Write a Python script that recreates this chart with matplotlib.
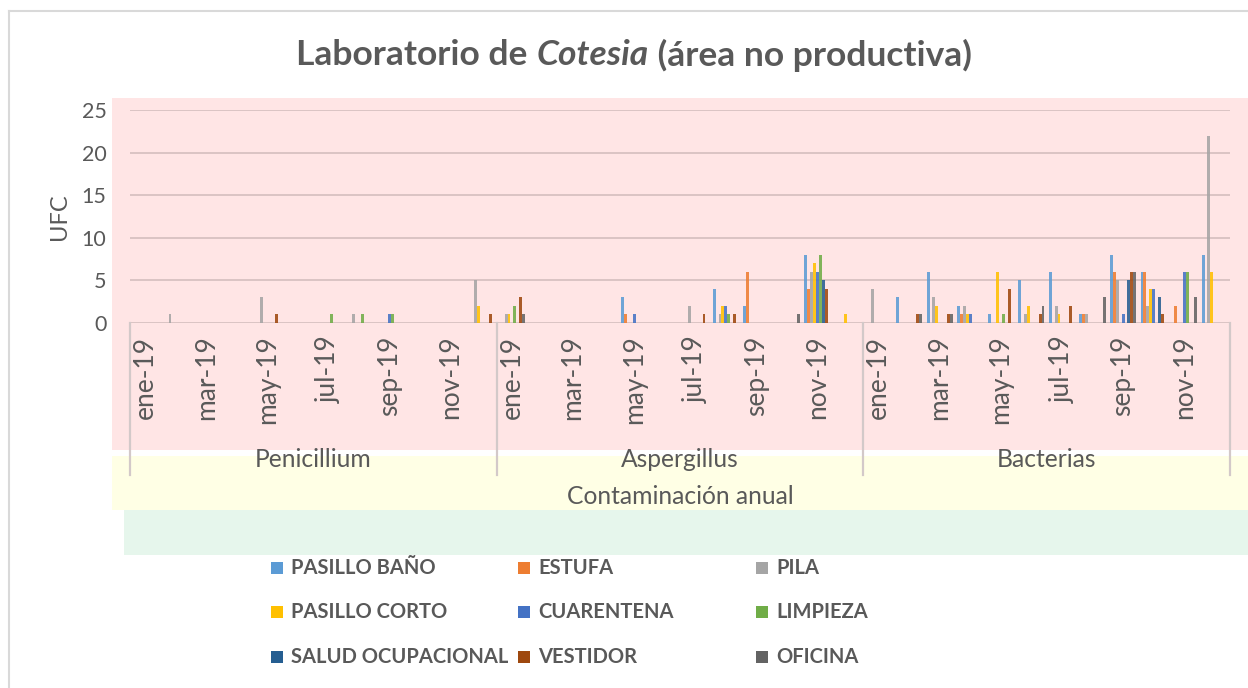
import numpy as np
import matplotlib
matplotlib.use('Agg')
import matplotlib.pyplot as plt
from matplotlib.patches import Rectangle
from matplotlib.lines import Line2D

W, H = 1248, 688
plt.rcParams['font.family'] = ['Lato', 'DejaVu Sans']
TXT = '#595959'

groups = ['Penicillium', 'Aspergillus', 'Bacterias']
months = ['ene-19', 'feb-19', 'mar-19', 'abr-19', 'may-19', 'jun-19',
          'jul-19', 'ago-19', 'sep-19', 'oct-19', 'nov-19', 'dic-19']
axis_title = 'Contaminación anual'

series_names = ['PASILLO BAÑO', 'ESTUFA', 'PILA', 'PASILLO CORTO', 'CUARENTENA',
                'LIMPIEZA', 'SALUD OCUPACIONAL', 'VESTIDOR', 'OFICINA']
colors = ['#5B9BD5', '#ED7D31', '#A5A5A5', '#FFC000', '#4472C4',
          '#70AD47', '#255E91', '#9E480E', '#636363']

#              Penicillium (ene..dic)      Aspergillus (ene..dic)      Bacterias (ene..dic)
pasillo_bano = [0,0,0,0,0,0,0,0,0,0,0,0,   0,0,0,0,3,0,0,4,2,0,8,0,   0,3,6,2,1,5,6,1,8,6,0,8]
estufa       = [0,0,0,0,0,0,0,0,0,0,0,0,   0,0,0,0,1,0,0,0,6,0,4,0,   0,0,0,1,0,0,0,1,6,6,2,0]
pila         = [0,1,0,0,3,0,0,1,0,0,0,5,   1,0,0,0,0,0,2,1,0,0,6,0,   4,0,3,2,0,1,2,1,5,2,0,22]
pasillo_corto= [0,0,0,0,0,0,0,0,0,0,0,2,   1,0,0,0,0,0,0,2,0,0,7,1,   0,0,2,1,6,2,1,0,0,4,0,6]
cuarentena   = [0,0,0,0,0,0,0,0,1,0,0,0,   0,0,0,0,1,0,0,2,0,0,6,0,   0,0,0,1,0,0,0,0,1,4,6,0]
limpieza     = [0,0,0,0,0,0,1,1,1,0,0,0,   2,0,0,0,0,0,0,1,0,0,8,0,   0,0,0,0,1,0,0,0,0,0,6,0]
salud_ocup   = [0,0,0,0,0,0,0,0,0,0,0,0,   0,0,0,0,0,0,0,0,0,0,5,0,   0,0,0,0,0,0,0,0,5,3,0,0]
vestidor     = [0,0,0,0,1,0,0,0,0,0,0,1,   3,0,0,0,0,0,1,1,0,0,4,0,   0,1,1,0,4,1,2,0,6,1,0,0]
oficina      = [0,0,0,0,0,0,0,0,0,0,0,0,   1,0,0,0,0,0,0,0,0,1,0,0,   0,1,1,0,0,2,0,3,6,0,3,0]

series_values = [pasillo_bano, estufa, pila, pasillo_corto, cuarentena,
                 limpieza, salud_ocup, vestidor, oficina]
y_ticks = [0, 5, 10, 15, 20, 25]


def fx(x):
    return x / W


def fy(y):
    return 1 - y / H


fig = plt.figure(figsize=(W / 100, H / 100), dpi=100)

# background bands and chart border
def band(x0, y0, x1, y1, color):
    fig.patches.append(Rectangle((fx(x0), fy(y1)), fx(x1) - fx(x0), fy(y0) - fy(y1),
                                 transform=fig.transFigure, facecolor=color,
                                 edgecolor='none', zorder=-5))

band(112, 98, 1248, 450, '#FFE5E5')
band(112, 456, 1248, 510, '#FFFFE5')
band(124, 510, 1248, 555, '#E6F6EC')
fig.lines.append(Line2D([fx(9), fx(9)], [fy(11), 0], transform=fig.transFigure,
                        color='#d9d9d9', lw=1.5, zorder=-4))
fig.lines.append(Line2D([fx(9), 1], [fy(11), fy(11)], transform=fig.transFigure,
                        color='#d9d9d9', lw=1.5, zorder=-4))

ax = fig.add_axes([fx(130), fy(323), fx(1230) - fx(130), fy(110) - fy(323)])
ax.set_facecolor('none')
n_cat = len(groups) * len(months)
x = np.arange(n_cat) + 0.5
bw = 0.095
for i, (name, vals, c) in enumerate(zip(series_names, series_values, colors)):
    ax.bar(x + (i - 4) * bw, vals, width=bw, color=c, alpha=0.88, label=name, zorder=3)

ax.set_xlim(0, n_cat)
ax.set_ylim(0, 25)
ax.set_yticks(y_ticks)
ax.tick_params(axis='y', length=0, pad=17, labelsize=15.5, labelcolor=TXT)
ax.yaxis.grid(True, color='#dbc4c4', lw=1.4, zorder=1)
ax.set_axisbelow(True)
for s in ax.spines.values():
    s.set_visible(False)

tick_pos = []
tick_lab = []
for g in range(len(groups)):
    for m in range(0, len(months), 2):
        tick_pos.append(g * len(months) + m + 0.5)
        tick_lab.append(months[m])
ax.set_xticks(tick_pos)
ax.set_xticklabels(tick_lab, rotation=90, fontsize=19, color=TXT)
ax.tick_params(axis='x', length=0, pad=9)

ax.set_ylabel('UFC', fontsize=17, color=TXT, labelpad=8)

# multi-level category separators
trans = ax.get_xaxis_transform()
ybot = -(475 - 323) / 213
for g in range(len(groups) + 1):
    ax.plot([g * len(months)] * 2, [0, ybot], transform=trans, color='#d3c9c9',
            lw=1.6, clip_on=False, zorder=2)
for g, name in enumerate(groups):
    ax.text(g * len(months) + len(months) / 2, -(459 - 323) / 213, name, transform=trans,
            ha='center', va='center', fontsize=17.7, color=TXT)
ax.text(n_cat / 2, -(496 - 323) / 213, axis_title, transform=trans,
        ha='center', va='center', fontsize=17.7, color=TXT)

# title built from three pieces (middle one italic)
pieces = [('Laboratorio de ', 'normal'), ('Cotesia', 'italic'), (' (área no productiva)', 'normal')]
renderer = fig.canvas.get_renderer()
texts = []
for s, st in pieces:
    t = fig.text(0, fy(55), s, fontsize=25.5, fontweight='bold', style=st, color=TXT,
                 ha='left', va='center')
    texts.append(t)
widths = [t.get_window_extent(renderer).width for t in texts]
total = sum(widths)
x0 = 634 - total / 2
for t, w in zip(texts, widths):
    t.set_x(fx(x0))
    x0 += w

# legend drawn in three fixed columns
col_x = [277, 524, 762]
row_y = [568, 612, 657]
sq = 12
for k, (name, c) in enumerate(zip(series_names, colors)):
    r, cc = divmod(k, 3)
    cx, cy = col_x[cc], row_y[r]
    fig.patches.append(Rectangle((fx(cx - sq / 2), fy(cy + sq / 2)), sq / W, sq / H,
                                 transform=fig.transFigure, facecolor=c, edgecolor='none'))
    fig.text(fx(cx + 14), fy(cy), name, fontsize=14.5, fontweight='bold', color=TXT,
             ha='left', va='center')

fig.savefig('out.png', dpi=100)
